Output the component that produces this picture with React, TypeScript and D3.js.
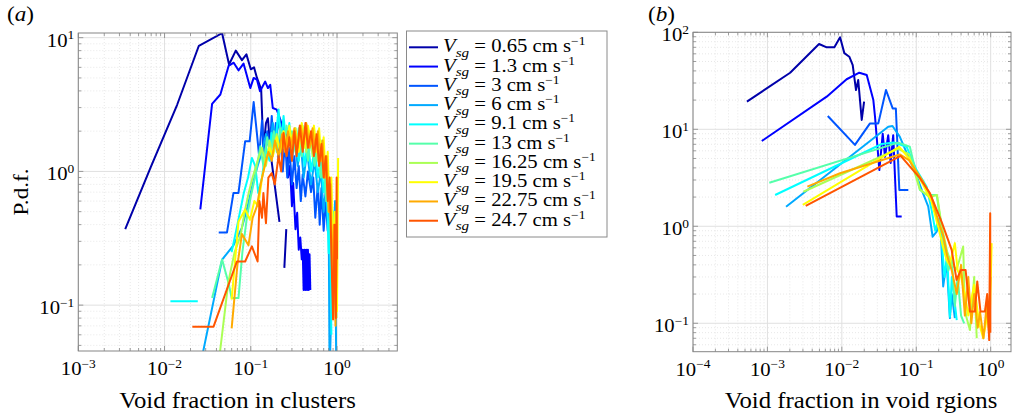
import React from 'react';
import * as d3 from 'd3';

type P = [number, number] | null;

// ---------- legend / colours ----------
const VSG_LABELS = ['0.65', '1.3', '3', '6', '9.1', '13', '16.25', '19.5', '22.75', '24.7'];
const COLORS = ['#0000aa', '#0000ff', '#0055ff', '#00aaff', '#00ffff', '#55ffaa', '#aaff55', '#ffff00', '#ffaa00', '#ff5500'];

// ---------- panel (a): void fraction in clusters ----------
const clusters065: P[] = [[0.0035, 0.37], [0.0069, 1.07], [0.014, 3.15], [0.025, 8.7], [0.0465, 10.8], [0.056, 6.3], [0.067, 8.0], [0.079, 6.8], [0.089, 7.5], [0.1, 5.8], [0.109, 6.0], [0.118, 5.0], [0.132, 4.1], [0.14, 1.45], [0.15, 2.3], [0.158, 2.5], [0.17, 1.35], [0.215, 0.42], null, [0.245, 0.19], [0.258, 0.37]];
const clusters13: P[] = [[0.026, 0.52], [0.0356, 3.2], [0.0444, 3.76], [0.0553, 6.15], [0.0634, 6.5], [0.072, 5.7], [0.0824, 6.4], [0.0987, 4.2], [0.108, 5.0], [0.118, 4.85], [0.128, 3.97], [0.147, 4.7], [0.158, 4.2], [0.168, 4.45], [0.18, 2.98], [0.2, 2.9], [0.22, 2.44], [0.237, 2.05], [0.25, 1.3], [0.26, 1.9], [0.27, 0.9], [0.285, 1.1], [0.3, 0.55], [0.31, 0.82], [0.33, 0.37], [0.345, 0.49], [0.36, 0.26], [0.375, 0.32], [0.39, 0.22], [0.4, 0.26], [0.41, 0.13], [0.42, 0.26], [0.43, 0.13], [0.44, 0.26], [0.45, 0.13], [0.46, 0.26], [0.47, 0.13], [0.48, 0.24], [0.49, 0.13]];
const clusters3: P[] = [[0.0425, 0.35], [0.053, 0.35], [0.063, 0.69], [0.072, 0.69], [0.086, 1.68], [0.097, 1.68], [0.108, 3.3], [0.118, 1.9], [0.125, 1.3], [0.135, 2.4], [0.145, 1.1], [0.155, 2.0], [0.165, 1.4], [0.175, 2.6], [0.185, 1.5], [0.195, 2.3], [0.21, 1.2], [0.22, 1.9], [0.235, 1.0], [0.25, 1.7], [0.265, 0.9], [0.28, 1.5], [0.3, 0.8], [0.32, 1.3], [0.34, 0.75], [0.36, 1.1], [0.38, 0.6], [0.4, 0.95], [0.43, 0.65], [0.46, 1.0], [0.5, 0.7], [0.53, 0.9], [0.56, 0.45], [0.6, 0.8], [0.63, 0.4], [0.66, 0.75], [0.7, 0.36], [0.74, 0.6], [0.78, 0.36], [0.82, 0.5]];
const clusters6: P[] = [[0.027, 0.04], [0.0465, 0.219], [0.063, 0.28], [0.079, 0.38], [0.092, 0.55], [0.105, 0.8], [0.12, 1.1], [0.135, 1.4], [0.15, 1.9], [0.165, 1.5], [0.18, 2.3], [0.195, 1.7], [0.21, 2.5], [0.225, 1.5], [0.24, 2.2], [0.26, 1.3], [0.28, 2.0], [0.3, 1.2], [0.32, 1.8], [0.35, 1.1], [0.38, 1.6], [0.41, 0.9], [0.45, 1.4], [0.5, 0.8], [0.55, 1.2], [0.6, 0.7], [0.65, 1.0], [0.7, 0.5], [0.75, 0.8], [0.8, 0.45], [0.82, 0.03], [0.9, 0.3], [0.95, 0.6], [0.98, 0.03]];
const clusters91: P[] = [[0.0117, 0.107], [0.0243, 0.107], null, [0.06, 0.25], [0.07, 0.4], [0.083, 0.69], [0.093, 0.9], [0.103, 1.26], [0.113, 1.09], [0.122, 0.69], [0.135, 0.9], [0.15, 1.5], [0.165, 1.2], [0.174, 1.94], [0.19, 1.5], [0.21, 2.9], [0.225, 1.7], [0.24, 2.6], [0.26, 1.5], [0.28, 2.3], [0.3, 1.3], [0.33, 2.1], [0.36, 1.2], [0.39, 1.9], [0.42, 1.1], [0.46, 1.7], [0.5, 1.0], [0.55, 1.5], [0.6, 0.9], [0.65, 1.3], [0.7, 0.7], [0.75, 1.0], [0.8, 0.245], [0.83, 0.5], [0.86, 0.06]];
const clusters13b: P[] = [[0.0356, 0.113], [0.0465, 0.219], [0.0553, 0.146], [0.06, 0.113], [0.072, 0.113], [0.08, 0.25], [0.09, 0.45], [0.1, 0.65], [0.112, 0.9], [0.129, 1.54], [0.14, 1.1], [0.155, 1.8], [0.17, 1.3], [0.185, 2.0], [0.2, 1.4], [0.22, 2.1], [0.24, 1.5], [0.26, 2.2], [0.28, 1.6], [0.3, 2.0], [0.33, 1.4], [0.36, 2.1], [0.39, 1.3], [0.42, 1.9], [0.46, 1.2], [0.5, 1.8], [0.55, 1.1], [0.6, 1.6], [0.65, 0.9], [0.7, 1.3], [0.75, 0.6], [0.8, 0.9], [0.85, 0.3], [0.9, 0.5], [0.95, 0.1]];
const clusters1625: P[] = [[0.044, 0.045], [0.055, 0.15], [0.065, 0.25], [0.076, 0.33], [0.085, 0.5], [0.095, 0.7], [0.105, 0.9], [0.12, 1.2], [0.135, 1.5], [0.15, 1.1], [0.165, 1.7], [0.18, 1.3], [0.2, 1.9], [0.22, 1.4], [0.24, 2.0], [0.26, 1.5], [0.28, 2.1], [0.3, 1.5], [0.33, 2.0], [0.36, 1.6], [0.4, 2.2], [0.44, 1.4], [0.48, 2.0], [0.52, 1.3], [0.56, 1.9], [0.6, 1.2], [0.65, 1.7], [0.7, 0.9], [0.75, 1.3], [0.8, 0.5], [0.85, 0.8], [0.9, 0.15], [0.95, 0.4], [0.99, 0.08]];
const clusters195: P[] = [[0.06, 0.11], [0.072, 0.42], [0.086, 0.52], [0.098, 0.435], [0.11, 0.6], [0.122, 0.55], [0.135, 0.9], [0.15, 1.2], [0.165, 1.5], [0.18, 1.3], [0.2, 1.8], [0.22, 1.4], [0.24, 2.0], [0.26, 1.5], [0.28, 2.2], [0.3, 1.6], [0.33, 2.1], [0.36, 1.4], [0.39, 2.3], [0.42, 1.5], [0.46, 2.2], [0.5, 1.6], [0.54, 2.2], [0.58, 1.4], [0.62, 2.1], [0.66, 1.2], [0.7, 1.8], [0.74, 0.9], [0.78, 1.4], [0.82, 0.5], [0.86, 0.9], [0.9, 0.2], [0.94, 0.5], [1.0, 0.09], [1.03, 1.26]];
const clusters2275: P[] = [[0.06, 0.067], [0.07, 0.2], [0.079, 0.34], [0.094, 0.28], [0.105, 0.45], [0.118, 0.55], [0.13, 0.8], [0.145, 1.1], [0.16, 1.4], [0.175, 1.2], [0.19, 1.7], [0.21, 1.3], [0.23, 1.9], [0.25, 1.4], [0.27, 2.0], [0.29, 1.5], [0.32, 2.1], [0.35, 1.5], [0.38, 2.2], [0.41, 1.6], [0.44, 2.3], [0.48, 1.5], [0.52, 2.1], [0.56, 1.4], [0.6, 2.0], [0.64, 1.2], [0.68, 1.7], [0.72, 0.9], [0.76, 1.3], [0.8, 0.5], [0.84, 0.8], [0.88, 0.15], [0.92, 0.4], [0.96, 0.07], [1.0, 0.3]];
const clusters247: P[] = [[0.021, 0.069], [0.037, 0.069], [0.069, 0.212], [0.086, 0.212], [0.103, 0.275], [0.12, 0.212], [0.126, 0.6], [0.135, 0.45], [0.14, 0.69], [0.15, 0.41], [0.16, 0.9], [0.175, 0.97], [0.19, 0.8], [0.21, 1.3], [0.225, 1.0], [0.24, 1.94], [0.26, 1.3], [0.28, 1.8], [0.3, 1.2], [0.32, 2.0], [0.34, 1.3], [0.37, 2.2], [0.4, 1.4], [0.43, 2.3], [0.46, 1.5], [0.5, 2.0], [0.54, 1.3], [0.58, 1.9], [0.62, 1.1], [0.66, 1.6], [0.7, 0.9], [0.74, 1.3], [0.78, 0.6], [0.82, 0.9], [0.86, 0.25], [0.9, 0.078], [0.94, 0.4], [0.97, 0.08], [0.99, 0.9], [1.0, 0.22]];
const CLUSTER_SERIES = [clusters065, clusters13, clusters3, clusters6, clusters91, clusters13b, clusters1625, clusters195, clusters2275, clusters247];

// ---------- panel (b): void fraction in void regions ----------
const voids065: P[] = [[0.00053, 19.3], [0.00202, 38.3], [0.00494, 75.7], [0.00626, 70], [0.00794, 70], [0.00947, 88.7], [0.0108, 61], [0.0126, 56], [0.014, 46], [0.0155, 25.4], [0.0166, 32.2], [0.0185, 12.5], [0.0199, 19.3]];
const voids13: P[] = [[0.00084, 7.57], [0.00626, 21.7], [0.0116, 32.8], [0.0172, 38.3], [0.0216, 36.3], [0.0265, 20], [0.0279, 13.5], [0.0309, 5.2], [0.0319, 3.8], [0.0354, 9], [0.038, 5.2], [0.042, 8.7], [0.0453, 4.5], [0.049, 8.7], [0.0546, 1.26], [0.0637, 1.26]];
const voids3: P[] = [[0.00647, 13.7], [0.015, 6.9], [0.0239, 11.5], [0.0309, 11.5], [0.0392, 25.4], [0.0482, 16.4], [0.0532, 16.4], [0.0592, 2.37], [0.0782, 2.37]];
const voids6: P[] = [[0.00178, 1.59], [0.042, 10.6], [0.0479, 10.8], [0.06, 8.4], [0.0743, 5.7], [0.1, 3.4], [0.12, 2.3], [0.145, 1.59], [0.166, 0.78], [0.188, 0.88], [0.21, 1.2], [0.23, 0.24], [0.256, 0.43], [0.283, 0.113], [0.3, 0.2], [0.33, 0.113]];
const voids91: P[] = [[0.00127, 2.1], [0.0344, 7.05], [0.05, 7.3], [0.0743, 6.6], [0.101, 3.8], [0.138, 2.56], [0.16, 1.5], [0.18, 0.9], [0.2, 1.2], [0.22, 0.7], [0.24, 0.3], [0.26, 0.5], [0.283, 0.117], [0.3, 0.3], [0.35, 0.108]];
const voids13b: P[] = [[0.00106, 2.81], [0.0573, 7.28], [0.082, 6.6], [0.112, 2.37], [0.14, 2.1], [0.188, 2.1], [0.21, 1.2], [0.24, 0.6], [0.27, 0.35], [0.3, 0.45], [0.33, 0.15], [0.36, 0.3], [0.4, 0.12], [0.44, 0.1]];
const voids1625: P[] = [[0.00304, 2.27], [0.0573, 6.3], [0.08, 5.5], [0.112, 2.4], [0.15, 2.0], [0.19, 2.1], [0.22, 1.0], [0.26, 0.55], [0.3, 0.4], [0.35, 0.36], [0.38, 0.45], [0.427, 0.62], [0.45, 0.15], [0.47, 0.117], [0.526, 0.085], [0.6, 0.3], [0.65, 0.07]];
const voids195: P[] = [[0.00299, 1.66], [0.059, 6.6], [0.08, 5.0], [0.12, 2.8], [0.16, 1.8], [0.2, 0.95], [0.23, 0.6], [0.256, 0.45], [0.28, 0.4], [0.33, 0.67], [0.36, 0.35], [0.4, 0.3], [0.45, 0.2], [0.5, 0.12], [0.6, 0.25], [0.7, 0.1], [0.794, 0.07], [0.9, 0.12], [0.97, 0.1], [1.03, 0.67]];
const voids2275: P[] = [[0.00344, 2.56], [0.00946, 3.52], [0.06, 5.5], [0.08, 4.8], [0.12, 3.0], [0.16, 2.0], [0.2, 1.1], [0.23, 0.8], [0.26, 0.5], [0.3, 0.35], [0.35, 0.2], [0.4, 0.4], [0.45, 0.12], [0.5, 0.3], [0.55, 0.1], [0.6, 0.2], [0.67, 0.09], [0.72, 0.13], [0.8, 0.07], [0.88, 0.15], [0.95, 0.08], [0.99, 0.3]];
const voids247: P[] = [[0.00327, 1.62], [0.0618, 5.31], [0.112, 3.13], [0.153, 2.19], [0.219, 1.11], [0.299, 0.57], [0.348, 0.28], [0.398, 0.355], [0.46, 0.355], [0.526, 0.132], [0.614, 0.132], [0.66, 0.27], [0.73, 0.132], [0.836, 0.132], [0.897, 0.2], [0.955, 0.067], [0.985, 1.36], [0.99, 0.08]];
const VOID_SERIES = [voids065, voids13, voids3, voids6, voids91, voids13b, voids1625, voids195, voids2275, voids247];

// ---------- ticks ----------
const X_TICKS_A = [1e-3, 1e-2, 1e-1, 1];
const Y_TICKS_A = [1e-1, 1, 10];
const X_TICKS_B = [1e-4, 1e-3, 1e-2, 1e-1, 1];
const Y_TICKS_B = [1e-1, 1, 10, 100];

const FONT = '"Liberation Serif", "Times New Roman", serif';
const SX = 1.12;

function minors(domain: [number, number]): number[] {
  const out: number[] = [];
  const e0 = Math.floor(Math.log10(domain[0]));
  const e1 = Math.ceil(Math.log10(domain[1]));
  for (let e = e0; e <= e1; e++) {
    for (let m = 2; m <= 9; m++) {
      const v = m * Math.pow(10, e);
      if (v > domain[0] * 1.001 && v < domain[1] * 0.999) out.push(v);
    }
  }
  return out;
}

function expLabel(v: number) {
  const e = Math.round(Math.log10(v));
  return e < 0 ? '\u2212' + Math.abs(e) : String(e);
}

function T(props: { x: number; y: number; anchor?: string; size: number; sx?: number; children: any; rotate?: number }) {
  const { x, y, anchor = 'start', size, sx = SX, children, rotate = 0 } = props;
  return (
    <text
      transform={`translate(${x},${y})${rotate ? ` rotate(${rotate})` : ''} scale(${sx},1)`}
      textAnchor={anchor as any}
      fontSize={size}
      fontFamily={FONT}
      fill="#000"
    >
      {children}
    </text>
  );
}

interface PanelProps {
  id: string;
  left: number; right: number; top: number; bottom: number;
  xDomain: [number, number]; yDomain: [number, number];
  xTicks: number[]; yTicks: number[];
  series: P[][];
  xLabel: string; xLabelCx: number;
  tag: string; tagX: number;
}

function Panel(p: PanelProps) {
  const x = d3.scaleLog().domain(p.xDomain).range([p.left, p.right]);
  const y = d3.scaleLog().domain(p.yDomain).range([p.bottom, p.top]);
  const mx = minors(p.xDomain);
  const my = minors(p.yDomain);
  const line = d3.line<P>()
    .defined((d) => d !== null)
    .x((d) => x((d as [number, number])[0]))
    .y((d) => y((d as [number, number])[1]));
  const w = p.right - p.left;
  const h = p.bottom - p.top;
  const axisCol = '#858585';
  return (
    <g>
      <defs>
        <clipPath id={`clip-${p.id}`}>
          <rect x={p.left} y={p.top} width={w} height={h} />
        </clipPath>
      </defs>
      <rect x={p.left} y={p.top} width={w} height={h} fill="#fff" />
      {mx.map((v, i) => (
        <line key={`mgx${i}`} x1={x(v)} x2={x(v)} y1={p.top} y2={p.bottom} stroke="#e2e2e2" strokeWidth={0.8} strokeDasharray="1,2" />
      ))}
      {my.map((v, i) => (
        <line key={`mgy${i}`} x1={p.left} x2={p.right} y1={y(v)} y2={y(v)} stroke="#e2e2e2" strokeWidth={0.8} strokeDasharray="1,2" />
      ))}
      {p.xTicks.map((v, i) => (
        <line key={`gx${i}`} x1={x(v)} x2={x(v)} y1={p.top} y2={p.bottom} stroke="#e0e0e0" strokeWidth={1} />
      ))}
      {p.yTicks.map((v, i) => (
        <line key={`gy${i}`} x1={p.left} x2={p.right} y1={y(v)} y2={y(v)} stroke="#e0e0e0" strokeWidth={1} />
      ))}
      <g clipPath={`url(#clip-${p.id})`}>
        {p.series.map((s, i) => (
          <path key={`s${i}`} d={line(s) || ''} fill="none" stroke={COLORS[i]} strokeWidth={2} strokeLinejoin="round" />
        ))}
      </g>
      {mx.map((v, i) => (
        <g key={`tmx${i}`} stroke={axisCol} strokeWidth={0.8}>
          <line x1={x(v)} x2={x(v)} y1={p.bottom} y2={p.bottom - 3} />
          <line x1={x(v)} x2={x(v)} y1={p.top} y2={p.top + 3} />
        </g>
      ))}
      {my.map((v, i) => (
        <g key={`tmy${i}`} stroke={axisCol} strokeWidth={0.8}>
          <line x1={p.left} x2={p.left + 3} y1={y(v)} y2={y(v)} />
          <line x1={p.right} x2={p.right - 3} y1={y(v)} y2={y(v)} />
        </g>
      ))}
      {p.xTicks.map((v, i) => (
        <g key={`tx${i}`} stroke={axisCol} strokeWidth={0.8}>
          <line x1={x(v)} x2={x(v)} y1={p.bottom} y2={p.bottom - 5} />
          <line x1={x(v)} x2={x(v)} y1={p.top} y2={p.top + 5} />
        </g>
      ))}
      {p.yTicks.map((v, i) => (
        <g key={`ty${i}`} stroke={axisCol} strokeWidth={0.8}>
          <line x1={p.left} x2={p.left + 5} y1={y(v)} y2={y(v)} />
          <line x1={p.right} x2={p.right - 5} y1={y(v)} y2={y(v)} />
        </g>
      ))}
      <rect x={p.left} y={p.top} width={w} height={h} fill="none" stroke={axisCol} strokeWidth={1} />
      {p.xTicks.map((v, i) => (
        <T key={`lx${i}`} x={x(v)} y={p.bottom + 24} anchor="middle" size={18.5}>
          10<tspan dy={-7.5} fontSize={12}>{expLabel(v)}</tspan>
        </T>
      ))}
      {p.yTicks.map((v, i) => (
        <T key={`ly${i}`} x={p.left - 4} y={y(v) + 9} anchor="end" size={18.5}>
          10<tspan dy={-7.5} fontSize={12}>{expLabel(v)}</tspan>
        </T>
      ))}
      <T x={p.xLabelCx} y={408} anchor="middle" size={22.5} sx={1.1}>{p.xLabel}</T>
      <T x={p.tagX} y={21} size={21} sx={1.1}>
        (<tspan fontStyle="italic">{p.tag}</tspan>)
      </T>
    </g>
  );
}

function Legend() {
  const x0 = 406.5, y0 = 31, w = 200.5, h = 206;
  const first = 47.3, step = 19.27;
  return (
    <g>
      <rect x={x0} y={y0} width={w} height={h} fill="#fff" stroke="#8a8a8a" strokeWidth={1} />
      {VSG_LABELS.map((lab, i) => {
        const ly = first + i * step;
        return (
          <g key={i}>
            <line x1={409} x2={438} y1={ly} y2={ly} stroke={COLORS[i]} strokeWidth={2} />
            <T x={443} y={ly + 5} size={18.5}>
              <tspan fontStyle="italic">V</tspan>
              <tspan fontStyle="italic" fontSize={13.5} dy={4.5}>sg</tspan>
              <tspan dy={-4.5}>{` = ${lab} cm s`}</tspan>
              <tspan fontSize={12} dy={-7}>{'\u22121'}</tspan>
            </T>
          </g>
        );
      })}
    </g>
  );
}

export default function App() {
  return (
    <svg width={1012} height={419} style={{ position: 'absolute', left: 0, top: 0, background: '#fff' }}>
      <rect x={0} y={0} width={1012} height={419} fill="#fff" />
      <Panel
        id="a" left={78.3} right={397.3} top={33} bottom={351}
        xDomain={[1e-3, 5.0]} yDomain={[0.0454, 10.84]}
        xTicks={X_TICKS_A} yTicks={Y_TICKS_A}
        series={CLUSTER_SERIES}
        xLabel="Void fraction in clusters" xLabelCx={237.5}
        tag="a" tagX={7}
      />
      <Panel
        id="b" left={693} right={1011} top={32.3} bottom={351.7}
        xDomain={[1e-4, 1.875]} yDomain={[0.0509, 100]}
        xTicks={X_TICKS_B} yTicks={Y_TICKS_B}
        series={VOID_SERIES}
        xLabel="Void fraction in void rgions" xLabelCx={861}
        tag="b" tagX={648}
      />
      <T x={28} y={192} anchor="middle" size={22} sx={1.05} rotate={-90}>P.d.f.</T>
      <Legend />
    </svg>
  );
}
